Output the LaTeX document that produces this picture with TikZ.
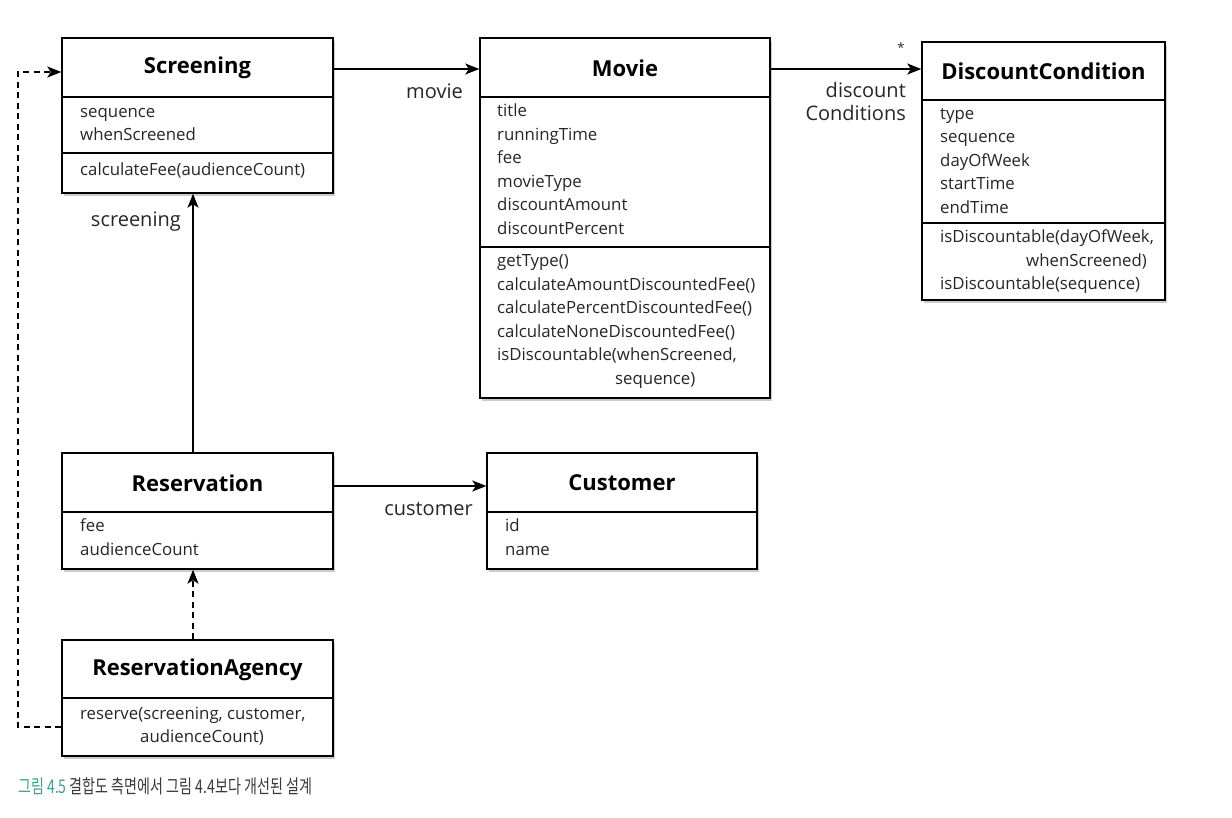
\documentclass[tikz,border=0pt]{standalone}
\usepackage{fontspec}
\setmainfont{Open Sans}
\newfontfamily\cjk{Noto Sans CJK KR}
\usetikzlibrary{arrows.meta,shadows}
\definecolor{capteal}{HTML}{3AA394}
\definecolor{capgray}{HTML}{3A3A3A}
\begin{document}
\begin{tikzpicture}[x=1pt,y=-1pt,
  classbox/.style={draw, line width=1.4pt, fill=white, inner sep=0pt,
    drop shadow={shadow xshift=1.5pt, shadow yshift=-3pt, opacity=0.4}},
  divider/.style={line width=1.2pt},
  title/.style={font=\fontsize{22}{26}\selectfont\bfseries, inner sep=0pt},
  item/.style={font=\fontsize{16.8}{20}\selectfont, anchor=mid west, inner sep=0pt, text=black!85},
  lbl/.style={font=\fontsize{20}{23}\selectfont, inner sep=0pt, text=black!85},
  assoc/.style={line width=1.6pt, -{Stealth[length=14pt,width=11pt,inset=3.5pt]}},
  dep/.style={line width=1.6pt, dash pattern=on 6pt off 4.5pt, -{Stealth[length=14pt,width=11pt,inset=3.5pt]}}
]
\useasboundingbox (0,0) rectangle (1232,817);

% ---------- Screening ----------
\node[classbox, minimum width=271pt, minimum height=155pt] (screening) at (197.5,115.5) {};
\draw[divider] (62,97) -- (333,97);
\draw[divider] (62,153) -- (333,153);
\node[title] (screeningT) at (197.5,67.5) {Screening};
\node[item] (s1) at (80,115) {sequence};
\node[item] (s2) at (80,138) {whenScreened};
\node[item] (s3) at (80,173) {calculateFee(audienceCount)};

% ---------- Movie ----------
\node[classbox, minimum width=290pt, minimum height=360pt] (movie) at (625,218) {};
\draw[divider] (480,97) -- (770,97);
\draw[divider] (480,247) -- (770,247);
\node[title] (movieT) at (625,68) {Movie};
\node[item] (m1) at (497,114) {title};
\node[item] (m2) at (497,137.5) {runningTime};
\node[item] (m3) at (497,161) {fee};
\node[item] (m4) at (497,184.5) {movieType};
\node[item] (m5) at (497,208) {discountAmount};
\node[item] (m6) at (497,231.5) {discountPercent};
\node[item] (m7) at (497,264) {getType()};
\node[item] (m8) at (497,287.5) {calculateAmountDiscountedFee()};
\node[item] (m9) at (497,311) {calculatePercentDiscountedFee()};
\node[item] (m10) at (497,334.5) {calculateNoneDiscountedFee()};
\node[item] (m11) at (497,358) {isDiscountable(whenScreened,};
\node[item] (m12) at (615,381.5) {sequence)};

% ---------- DiscountCondition ----------
\node[classbox, minimum width=243pt, minimum height=258pt] (dc) at (1043.5,171) {};
\draw[divider] (922,100) -- (1165,100);
\draw[divider] (922,223) -- (1165,223);
\node[title] (dcT) at (1043.5,71) {DiscountCondition};
\node[item] (d1) at (940,116.5) {type};
\node[item] (d2) at (940,140) {sequence};
\node[item] (d3) at (940,163.5) {dayOfWeek};
\node[item] (d4) at (940,187) {startTime};
\node[item] (d5) at (940,210.5) {endTime};
\node[item] (d6) at (940,240) {isDiscountable(dayOfWeek,};
\node[item] (d7) at (1026,263.5) {whenScreened)};
\node[item] (d8) at (940,287) {isDiscountable(sequence)};

% ---------- Reservation ----------
\node[classbox, minimum width=271pt, minimum height=116pt] (reservation) at (197.5,511) {};
\draw[divider] (62,512) -- (333,512);
\node[title] (reservationT) at (197.5,483) {Reservation};
\node[item] (r1) at (80,529) {fee};
\node[item] (r2) at (80,552.5) {audienceCount};

% ---------- Customer ----------
\node[classbox, minimum width=270pt, minimum height=116pt] (customer) at (622,511) {};
\draw[divider] (487,512) -- (757,512);
\node[title] (customerT) at (622,483) {Customer};
\node[item] (c1) at (505,529) {id};
\node[item] (c2) at (505,552.5) {name};

% ---------- ReservationAgency ----------
\node[classbox, minimum width=271pt, minimum height=116pt] (agency) at (197.5,698) {};
\draw[divider] (62,698) -- (333,698);
\node[title] (agencyT) at (197.5,670) {ReservationAgency};
\node[item] (a1) at (80,716.5) {reserve(screening, customer,};
\node[item] (a2) at (140,740) {audienceCount)};

% ---------- connectors ----------
\draw[assoc] (screening.east |- 0,69) -- (movie.west |- 0,69);
\node[lbl, anchor=mid east] (lmovie) at (463,96) {movie};

\draw[assoc] (movie.east |- 0,69) -- (dc.west |- 0,69);
\node[font=\fontsize{13}{15}\selectfont, inner sep=0pt, text=black!85] (lstar) at (901,48) {*};
\node[lbl, anchor=north east, align=right] (ldc) at (906,82) {discount\\Conditions};

\draw[assoc] (reservation.north -| 193,0) -- (screening.south -| 193,0);
\node[lbl, anchor=mid east] (lscreening) at (181,224) {screening};

\draw[assoc] (reservation.east |- 0,486) -- (customer.west |- 0,486);
\node[lbl, anchor=mid east] (lcustomer) at (473,513) {customer};

\draw[dep] (agency.north -| 193,0) -- (reservation.south -| 193,0);
\draw[dep] (agency.west |- 0,727) -| (18,72) -- (screening.west |- 0,72);

% ---------- caption ----------
\node[anchor=mid west, inner sep=0pt, font=\cjk\fontsize{19}{22}\selectfont] (caption) at (18,791)
  {\scalebox{0.74}[1]{\textcolor{capteal}{그림 4.5}\ \textcolor{capgray}{결합도 측면에서 그림 4.4보다 개선된 설계}}};
\end{tikzpicture}
\end{document}
